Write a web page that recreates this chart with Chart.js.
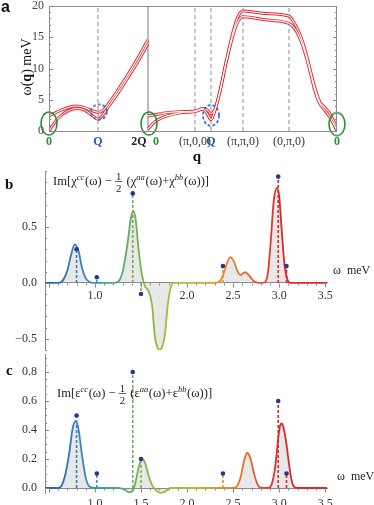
<!DOCTYPE html>
<html>
<head>
<meta charset="utf-8">
<title>Magnon dispersion and chirality response</title>
<script src="https://cdn.jsdelivr.net/npm/chart.js"></script>
<style>
  body { margin: 0; background: #ffffff; }
  #wrap { position: relative; width: 374px; height: 505px; overflow: hidden; }
  canvas { position: absolute; left: 0; }
  #chartA { top: 0; }
  #chartB { top: 165px; }
  #chartC { top: 345px; }
</style>
</head>
<body>
<div id="wrap">
  <canvas id="chartA" width="374" height="165"></canvas>
  <canvas id="chartB" width="374" height="195"></canvas>
  <canvas id="chartC" width="374" height="160"></canvas>
</div>
<script>
// ---- panel a: dispersion along the q path (arbitrary path units) ----
const qLeft = [0, 5, 10, 20, 28, 36, 44, 49, 54, 60, 70, 80, 90, 99];
const upperLeft = [2.4, 2.8, 3.2, 3.8, 4.0, 3.7, 3.2, 3.0, 3.3, 4.5, 6.8, 9.3, 12.0, 14.6];
const lowerLeft = [0.0, 1.2, 2.2, 3.3, 3.6, 3.3, 2.4, 1.9, 2.6, 4.0, 6.3, 8.8, 11.4, 14.0];

const qRight = [99, 106, 116, 131, 146, 154, 158, 162, 166, 171, 177, 184, 189, 194, 216, 240,
                244, 248, 252, 256, 260, 264, 268, 271, 275, 280, 285, 288];
const upperRight = [2.4, 2.6, 2.9, 3.1, 3.2, 3.6, 3.4, 2.8, 3.5, 6.5, 11.0, 15.8, 18.3, 19.2, 18.8, 18.4,
                    17.6, 16.5, 15.0, 13.0, 10.6, 8.0, 5.8, 4.6, 3.9, 3.0, 1.5, 0.3];
const lowerRight = [0.3, 1.5, 2.3, 2.9, 3.1, 3.5, 2.8, 1.8, 3.3, 6.3, 10.8, 15.3, 17.5, 18.3, 17.8, 17.2,
                    16.7, 15.8, 14.4, 12.5, 10.2, 7.6, 5.4, 4.3, 3.5, 2.4, 1.0, 0.0];

const qTickPos = [0, 49, 90, 107, 146, 162, 194, 240, 288];
const qTickLabels = ['0', 'Q', '2Q', '0', '(\u03c0,0,0)', 'Q', '(\u03c0,\u03c0,0)', '(0,\u03c0,0)', '0'];
const qMarks = [49, 146, 162, 194, 240];
const qBreak = 99;
const greenRingQ = [0, 100, 288];
const greenRingW = [1.2, 1.2, 1.1];
const blueRingQ = [50, 162];
const blueRingW = [3.05, 2.5];

// ---- panels b, c: response spectra ----
const bOmega = [0.46, 0.6, 0.65, 0.7, 0.74, 0.78, 0.82, 0.86, 0.9, 0.95, 1.0,
                1.2, 1.25, 1.3, 1.35, 1.39, 1.415, 1.44, 1.47, 1.5, 1.53, 1.55, 1.58, 1.62, 1.65, 1.68, 1.705, 1.73, 1.76, 1.79, 1.82, 1.86,
                2.3, 2.36, 2.4, 2.44, 2.47, 2.51, 2.55, 2.58, 2.63, 2.68, 2.72, 2.76, 2.82,
                2.85, 2.88, 2.91, 2.94, 2.975, 3.0, 3.03, 3.06, 3.09, 3.12, 3.52];
const bValue = [0, 0, 0.02, 0.11, 0.25, 0.345, 0.29, 0.13, 0.04, 0.005, 0,
                0, 0.01, 0.1, 0.33, 0.58, 0.64, 0.58, 0.33, 0.12, 0.0, -0.04, -0.07, -0.2, -0.48, -0.58, -0.6, -0.57, -0.46, -0.2, -0.05, 0,
                0, 0.02, 0.09, 0.19, 0.23, 0.19, 0.1, 0.07, 0.095, 0.06, 0.02, 0.003, 0,
                0.01, 0.1, 0.38, 0.72, 0.85, 0.78, 0.45, 0.15, 0.03, 0, 0];

const cOmega = [0.46, 0.6, 0.64, 0.68, 0.72, 0.76, 0.79, 0.82, 0.86, 0.9, 0.94, 1.0,
                1.25, 1.32, 1.37, 1.41, 1.44, 1.47, 1.51, 1.54, 1.58, 1.62, 1.66, 1.71, 1.76, 1.82,
                2.5, 2.54, 2.58, 2.62, 2.655, 2.69, 2.72, 2.75, 2.79,
                2.86, 2.9, 2.93, 2.96, 2.99, 3.01, 3.03, 3.05, 3.08, 3.1, 3.13, 3.16, 3.2, 3.52];
const cValue = [0, 0, 0.02, 0.1, 0.24, 0.42, 0.46, 0.41, 0.22, 0.07, 0.01, 0,
                0, -0.01, -0.03, -0.02, 0.04, 0.13, 0.2, 0.18, 0.09, 0.02, -0.015, -0.035, -0.025, 0,
                0, 0.01, 0.07, 0.19, 0.243, 0.2, 0.12, 0.05, 0.005,
                0, 0.005, 0.05, 0.16, 0.34, 0.43, 0.446, 0.41, 0.3, 0.2, 0.07, 0.01, 0, 0];

const modeOmega = [0.80, 1.02, 1.41, 1.50, 2.39, 2.99, 3.08];
const bStem = [0.30, 0.05, 0.80, -0.10, 0.15, 0.95, 0.15];
const cStem = [0.50, 0.10, 0.80, 0.20, 0.10, 0.60, 0.10];

const bXTicks = [1.0, 2.0, 2.5, 3.0, 3.5];
const cXTicks = [1.0, 1.5, 2.0, 2.5, 3.0, 3.5];
const bYTicks = [-0.5, 0.0, 0.5];
const cYTicks = [0.0, 0.2, 0.4, 0.6, 0.8];

// colour ramp along omega
const hueOmega = [0.46, 0.8, 1.05, 1.4, 1.7, 2.1, 2.45, 2.75, 3.0, 3.52];
const hueColors = ['#2c5aa8', '#3a7cc2', '#3a9fa8', '#66b05a', '#98be3e', '#c8b42e', '#e8862c', '#e6582c', '#dc2828', '#dc2828'];

const serif = '"Liberation Serif", "DejaVu Serif", serif';
const sans = '"Liberation Sans", Arial, sans-serif';
const red = '#e3262b';
const navy = '#2d3192';

function hexRgb(h) {
  return [1, 3, 5].map(k => parseInt(h.substr(k, 2), 16));
}
function colorAt(w) {
  let i = 0;
  while (i < hueOmega.length - 2 && w > hueOmega[i + 1]) i++;
  const t = Math.min(1, Math.max(0, (w - hueOmega[i]) / (hueOmega[i + 1] - hueOmega[i])));
  const a = hexRgb(hueColors[i]), b = hexRgb(hueColors[i + 1]);
  return 'rgb(' + a.map((c, k) => Math.round(c + (b[k] - c) * t)).join(',') + ')';
}
function curveGradient(context) {
  const chart = context.chart;
  const {ctx, chartArea, scales} = chart;
  if (!chartArea) return hueColors[0];
  const w0 = hueOmega[0], w1 = hueOmega[hueOmega.length - 1];
  const g = ctx.createLinearGradient(scales.x.getPixelForValue(w0), 0, scales.x.getPixelForValue(w1), 0);
  hueOmega.forEach((w, i) => g.addColorStop((w - w0) / (w1 - w0), hueColors[i]));
  return g;
}
function ring(w, h, color, dashed) {
  const c = document.createElement('canvas');
  c.width = w + 4; c.height = h + 4;
  const g = c.getContext('2d');
  g.strokeStyle = color; g.lineWidth = 1.6;
  if (dashed) g.setLineDash([3, 2]);
  g.beginPath();
  g.ellipse(c.width / 2, c.height / 2, w / 2, h / 2, 0, 0, Math.PI * 2);
  g.stroke();
  return c;
}
const zeroPad = s => { s.paddingLeft = 0; s.paddingRight = 0; s.paddingTop = 0; s.paddingBottom = 0; };
const pts = (xs, ys) => xs.map((x, i) => ({x: x, y: ys[i]}));

function tick(ctx, x1, y1, x2, y2) {
  ctx.beginPath(); ctx.moveTo(x1, y1); ctx.lineTo(x2, y2); ctx.stroke();
}

// rich text: [text, kind] where kind is '', 'sup', 'frac'
function drawRich(ctx, x, y, parts, size) {
  ctx.textAlign = 'left';
  ctx.textBaseline = 'alphabetic';
  for (const [t, k] of parts) {
    if (k === 'sup') {
      ctx.font = 'italic ' + (size * 0.68) + 'px ' + serif;
      ctx.fillText(t, x, y - size * 0.42);
      x += ctx.measureText(t).width + 0.6;
    } else if (k === 'frac') {
      ctx.font = (size * 0.85) + 'px ' + serif;
      const w = ctx.measureText('1').width + 2;
      ctx.textAlign = 'center';
      ctx.fillText('1', x + w / 2, y - size * 0.4);
      ctx.fillText('2', x + w / 2, y + size * 0.55);
      ctx.textAlign = 'left';
      ctx.fillRect(x, y - size * 0.3, w, 0.7);
      x += w + 1;
    } else {
      ctx.font = size + 'px ' + serif;
      ctx.fillText(t, x, y);
      x += ctx.measureText(t).width;
    }
  }
}

// ---------------- panel a ----------------
const frameA = {
  id: 'frameA',
  afterDraw(chart) {
    const {ctx, chartArea: a, scales: {y}} = chart;
    ctx.save();
    ctx.strokeStyle = '#8a8a8a';
    ctx.lineWidth = 1;
    ctx.strokeRect(Math.round(a.left) + 0.5, Math.round(a.top) + 0.5, Math.round(a.width) - 1, Math.round(a.height));
    for (let v = 1; v < 20; v++) {
      const py = Math.round(y.getPixelForValue(v)) + 0.5;
      const len = v % 5 === 0 ? 4 : 2;
      tick(ctx, a.left, py, a.left + len, py);
      tick(ctx, a.right - len, py, a.right, py);
    }
    ctx.fillStyle = '#111';
    ctx.font = 'bold 16px ' + sans;
    ctx.fillText('a', 1, 12);
    ctx.font = 'bold 15px ' + serif;
    ctx.textAlign = 'center';
    ctx.textBaseline = 'middle';
    ctx.fillText('q', 197, 157);
    // rotated y title  ω(q) meV
    ctx.translate(27, 67);
    ctx.rotate(-Math.PI / 2);
    const parts = [['\u03c9(', ''], ['q', 'b'], [') meV', '']];
    let total = 0;
    for (const [t, k] of parts) {
      ctx.font = (k === 'b' ? 'bold ' : '') + '14px ' + serif;
      total += ctx.measureText(t).width;
    }
    let x = -total / 2;
    ctx.textAlign = 'left';
    for (const [t, k] of parts) {
      ctx.font = (k === 'b' ? 'bold ' : '') + '14px ' + serif;
      ctx.fillText(t, x, 0);
      x += ctx.measureText(t).width;
    }
    ctx.restore();
  }
};

const qTickColors = ['#2f8a3c', '#2b57b4', '#222', '#2f8a3c', '#333', '#2b57b4', '#333', '#333', '#2f8a3c'];
const qTickBold = [true, true, true, true, false, true, false, false, true];
const greenRing = ring(16, 23, '#2a8a3a', false);
const blueRingSmall = ring(16, 15, '#2f5fcf', true);
const blueRingTall = ring(16, 21, '#2f5fcf', true);

function modeLine(xs, ys) {
  return [
    {data: pts(xs, ys), showLine: true, borderColor: red, borderWidth: 3, pointRadius: 0,
     cubicInterpolationMode: 'monotone', order: 4},
    {data: pts(xs, ys), showLine: true, borderColor: '#ffffff', borderWidth: 1.1, pointRadius: 0,
     cubicInterpolationMode: 'monotone', order: 3}
  ];
}

const aSets = [];
qMarks.forEach(q => aSets.push({
  data: [{x: q, y: 0}, {x: q, y: 20}], showLine: true, borderColor: '#8c8c8c',
  borderWidth: 1, borderDash: [4, 3], pointRadius: 0, order: 6
}));
aSets.push({
  data: [{x: qBreak, y: 0}, {x: qBreak, y: 20}], showLine: true, borderColor: '#777',
  borderWidth: 1, pointRadius: 0, order: 6
});
aSets.push(...modeLine(qLeft, upperLeft), ...modeLine(qLeft, lowerLeft));
aSets.push(...modeLine(qRight, upperRight), ...modeLine(qRight, lowerRight));
aSets.push({
  data: pts(greenRingQ, greenRingW), pointStyle: greenRing, pointRadius: 5, clip: false, order: 1
});
aSets.push({
  data: pts(blueRingQ, blueRingW), pointStyle: [blueRingSmall, blueRingTall], pointRadius: 5, clip: false, order: 1
});

new Chart(document.getElementById('chartA'), {
  type: 'scatter',
  data: {datasets: aSets},
  options: {
    responsive: false,
    animation: false,
    layout: {padding: {top: 5, right: 37, bottom: 0, left: 0}},
    plugins: {legend: {display: false}, tooltip: {enabled: false}},
    scales: {
      x: {
        min: 0, max: 288,
        afterFit: s => { s.height = 34; zeroPad(s); },
        afterBuildTicks: s => { s.ticks = qTickPos.map(v => ({value: v})); },
        grid: {display: false, drawTicks: false}, border: {display: false},
        ticks: {
          autoSkip: false, maxRotation: 0, padding: 4,
          callback: (v, i) => qTickLabels[i],
          color: c => qTickColors[c.index],
          font: c => ({family: serif, size: 12, weight: qTickBold[c.index] ? 'bold' : 'normal'})
        }
      },
      y: {
        min: 0, max: 20,
        afterFit: s => { s.width = 49; zeroPad(s); },
        grid: {display: false, drawTicks: false}, border: {display: false},
        ticks: {stepSize: 5, padding: 5, color: '#444', font: {family: serif, size: 12}}
      }
    }
  },
  plugins: [frameA]
});

// ---------------- panels b and c ----------------
function axisTicks(yMajor, yMinorStep, yMin, yMax) {
  return {
    id: 'axisTicks',
    afterDraw(chart) {
      const {ctx, chartArea: a, scales: {x, y}} = chart;
      ctx.save();
      ctx.strokeStyle = '#888';
      ctx.lineWidth = 1;
      const n = Math.round((yMax - yMin) / yMinorStep);
      for (let k = 0; k <= n; k++) {
        const v = yMin + k * yMinorStep;
        const major = yMajor.some(m => Math.abs(m - v) < 1e-6);
        const py = Math.round(y.getPixelForValue(v)) + 0.5;
        tick(ctx, a.left, py, a.left + (major ? 4 : 2), py);
      }
      const y0 = Math.round(y.getPixelForValue(0)) + 0.5;
      for (let k = 5; k <= 35; k++) {
        const v = k / 10;
        const px = Math.round(x.getPixelForValue(v)) + 0.5;
        tick(ctx, px, y0, px, y0 + (k % 5 === 0 ? 4 : 2));
      }
      ctx.restore();
    }
  };
}

function labels(letter, letterXY, sym, formulaXY, unitXY) {
  return {
    id: 'labels',
    afterDraw(chart) {
      const ctx = chart.ctx;
      ctx.save();
      ctx.fillStyle = '#111';
      ctx.font = 'bold 15px ' + serif;
      ctx.textAlign = 'left';
      ctx.fillText(letter, letterXY[0], letterXY[1]);
      ctx.fillStyle = '#222';
      drawRich(ctx, formulaXY[0], formulaXY[1], [
        ['Im[' + sym, ''], ['cc', 'sup'], ['(\u03c9) \u2212 ', ''], ['', 'frac'],
        [' (' + sym, ''], ['aa', 'sup'], ['(\u03c9)+' + sym, ''], ['bb', 'sup'], ['(\u03c9))]', '']
      ], 12.6);
      ctx.font = '12px ' + serif;
      ctx.fillText('\u03c9  meV', unitXY[0], unitXY[1]);
      ctx.restore();
    }
  };
}

function spectrumSets(omega, values, stems) {
  const sets = [{
    data: pts(omega, values), showLine: true, borderColor: curveGradient, borderWidth: 1.8,
    pointRadius: 0, fill: 'origin', backgroundColor: 'rgba(150,150,150,0.22)',
    cubicInterpolationMode: 'monotone', order: 3
  }];
  modeOmega.forEach((w, i) => sets.push({
    data: [{x: w, y: 0}, {x: w, y: stems[i]}], showLine: true, borderColor: colorAt(w),
    borderWidth: 1.6, borderDash: [3, 2], pointRadius: 0, order: 2
  }));
  sets.push({
    data: pts(modeOmega, stems), pointRadius: 2.3, backgroundColor: navy, borderWidth: 0, order: 1
  });
  return sets;
}

function signed(v) {
  return v < 0 ? '\u2212' + Math.abs(v).toFixed(1) : v.toFixed(1);
}

function spectrumOptions(yMin, yMax, xTicks, yTicks, pad, xPad) {
  return {
    responsive: false,
    animation: false,
    layout: {padding: pad},
    plugins: {legend: {display: false}, tooltip: {enabled: false}},
    scales: {
      x: {
        type: 'linear', min: 0.457, max: 3.52, position: {y: 0},
        afterFit: s => { s.height = 0; zeroPad(s); },
        afterBuildTicks: s => { s.ticks = xTicks.map(v => ({value: v})); },
        grid: {drawOnChartArea: false, drawTicks: false},
        border: {color: '#888', width: 1},
        ticks: {autoSkip: false, maxRotation: 0, padding: xPad, color: '#333',
                font: {family: serif, size: 12}, callback: v => v.toFixed(1)}
      },
      y: {
        min: yMin, max: yMax,
        afterFit: s => { s.width = 45; zeroPad(s); },
        afterBuildTicks: s => { s.ticks = yTicks.map(v => ({value: v})); },
        grid: {drawOnChartArea: false, drawTicks: false},
        border: {color: '#888', width: 1},
        ticks: {padding: 8, color: '#333', font: {family: serif, size: 12}, callback: v => signed(v)}
      }
    }
  };
}

new Chart(document.getElementById('chartB'), {
  type: 'scatter',
  data: {datasets: spectrumSets(bOmega, bValue, bStem)},
  options: spectrumOptions(-0.6, 1.0, bXTicks, bYTicks, {top: 6, right: 47, bottom: 10, left: 0}, 6),
  plugins: [axisTicks(bYTicks, 0.1, -0.6, 1.0), labels('b', [5, 24], '\u03c7', [53, 20], [333, 109])]
});

new Chart(document.getElementById('chartC'), {
  type: 'scatter',
  data: {datasets: spectrumSets(cOmega, cValue, cStem)},
  options: spectrumOptions(-0.04, 0.92, cXTicks, cYTicks, {top: 9.6, right: 47, bottom: 11.2, left: 0}, 9),
  plugins: [axisTicks(cYTicks, 0.05, 0, 0.9), labels('c', [6, 30], '\u03b5', [57, 52], [337, 135])]
});
</script>
</body>
</html>
